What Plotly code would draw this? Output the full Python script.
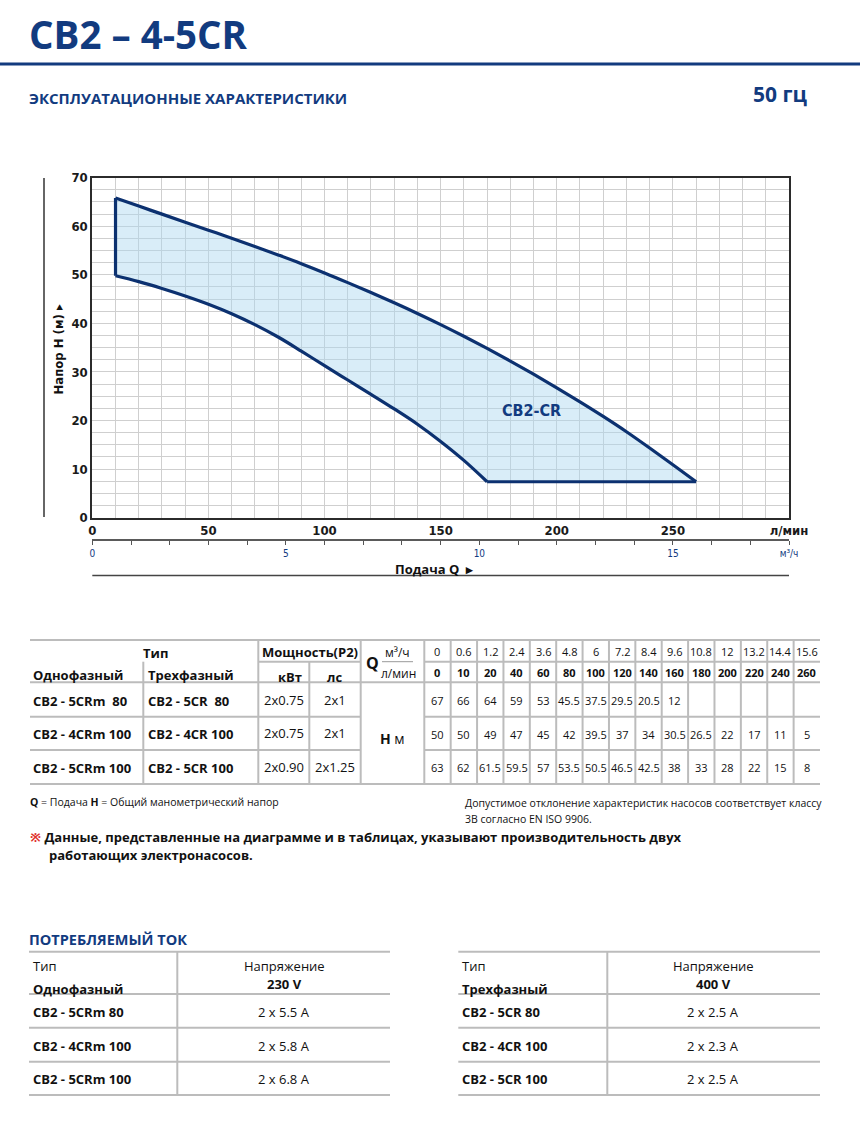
import plotly.graph_objects as go

# ---------------- data ----------------
# envelope of the CB2-CR performance field (Q in l/min, H in m)
upper_q = [10, 20, 30, 40, 50, 60, 70, 80, 90, 100, 110, 120, 130, 140, 150, 160, 170, 180, 190, 200, 210, 220, 230, 240, 250, 260]
upper_h = [65.8, 64.15, 62.5, 60.85, 59.2, 57.55, 55.85, 54.1, 52.3, 50.4, 48.4, 46.35, 44.25, 42.05, 39.75, 37.35, 34.85, 32.25, 29.55, 26.75, 23.85, 20.85, 17.7, 14.35, 10.9, 7.4]
lower_q = [10, 20, 30, 40, 50, 60, 70, 80, 90, 100, 110, 120, 130, 140, 150, 160, 170]
lower_h = [49.8, 48.6, 47.2, 45.65, 43.95, 42.0, 39.75, 37.2, 34.3, 31.3, 28.35, 25.4, 22.4, 19.25, 15.7, 11.8, 7.4]

x_grid = list(range(0, 301, 10))
x_tick_labels = {0: "0", 50: "50", 100: "100", 150: "150", 200: "200", 250: "250", 300: "л/мин"}
y_grid = [i * 2.5 for i in range(29)]
y_tick_labels = {0: "0", 10: "10", 20: "20", 30: "30", 40: "40", 50: "50", 60: "60", 70: "70"}
m3h_grid = list(range(0, 19))
m3h_tick_labels = {0: "0", 5: "5", 10: "10", 15: "15", 18: "м³/ч"}

# performance table
q_m3h = ["0", "0.6", "1.2", "2.4", "3.6", "4.8", "6", "7.2", "8.4", "9.6", "10.8", "12", "13.2", "14.4", "15.6"]
q_lmin = ["0", "10", "20", "40", "60", "80", "100", "120", "140", "160", "180", "200", "220", "240", "260"]
models_1ph = ["CB2 - 5CRm  80", "CB2 - 4CRm 100", "CB2 - 5CRm 100"]
models_3ph = ["CB2 - 5CR  80", "CB2 - 4CR 100", "CB2 - 5CR 100"]
power_kw = ["2x0.75", "2x0.75", "2x0.90"]
power_hp = ["2x1", "2x1", "2x1.25"]
head_5cr80 = ["67", "66", "64", "59", "53", "45.5", "37.5", "29.5", "20.5", "12", "", "", "", "", ""]
head_4cr100 = ["50", "50", "49", "47", "45", "42", "39.5", "37", "34", "30.5", "26.5", "22", "17", "11", "5"]
head_5cr100 = ["63", "62", "61.5", "59.5", "57", "53.5", "50.5", "46.5", "42.5", "38", "33", "28", "22", "15", "8"]
heads = [head_5cr80, head_4cr100, head_5cr100]

# current table
cur_models_1ph = ["CB2 - 5CRm 80", "CB2 - 4CRm 100", "CB2 - 5CRm 100"]
cur_models_3ph = ["CB2 - 5CR 80", "CB2 - 4CR 100", "CB2 - 5CR 100"]
current_230 = ["2 x 5.5 A", "2 x 5.8 A", "2 x 6.8 A"]
current_400 = ["2 x 2.5 A", "2 x 2.3 A", "2 x 2.5 A"]

# ---------------- styling ----------------
W, H = 860, 1138
NARROW = "Liberation Sans Narrow, DejaVu Sans Condensed, Arial Narrow, sans-serif"
SANS = "Open Sans, Noto Sans, sans-serif"
NAVY = "#123b7f"
CURVE = "#0c3170"
GRID = "#cfcfcf"
TLINE = "#bcbcbc"


def px(x):
    return x / W


def py(y):
    return 1 - y / H


fig = go.Figure()

# filled performance field
fig.add_trace(go.Scatter(
    x=upper_q + lower_q[::-1], y=upper_h + lower_h[::-1],
    mode="lines", fill="toself", fillcolor="rgba(170,214,240,0.45)",
    line=dict(width=0), hoverinfo="skip", showlegend=False))
# outline
line_style = dict(color=CURVE, width=3.2)
fig.add_trace(go.Scatter(x=upper_q, y=upper_h, mode="lines", line=dict(shape="spline", smoothing=1, **line_style),
                         hoverinfo="skip", showlegend=False))
fig.add_trace(go.Scatter(x=lower_q, y=lower_h, mode="lines", line=dict(shape="spline", smoothing=1, **line_style),
                         hoverinfo="skip", showlegend=False))
fig.add_trace(go.Scatter(x=[upper_q[0], lower_q[0]], y=[upper_h[0], lower_h[0]], mode="lines", line=line_style,
                         hoverinfo="skip", showlegend=False))
fig.add_trace(go.Scatter(x=[lower_q[-1], upper_q[-1]], y=[lower_h[-1], upper_h[-1]], mode="lines", line=line_style,
                         hoverinfo="skip", showlegend=False))
# invisible trace carrying the secondary (m3/h) axis
fig.add_trace(go.Scatter(x=[float(v) for v in q_m3h], y=[float(v) for v in head_5cr100], xaxis="x2", yaxis="y",
                         mode="markers", marker=dict(opacity=0), hoverinfo="skip", showlegend=False))

xdom = [px(92.3), px(789)]
fig.update_layout(
    width=W, height=H, margin=dict(l=0, r=0, t=0, b=0),
    paper_bgcolor="white", plot_bgcolor="white", showlegend=False,
    xaxis=dict(domain=xdom, range=[0, 300], tickmode="array", tickvals=x_grid,
               ticktext=[x_tick_labels.get(v, "") for v in x_grid],
               showgrid=True, gridcolor=GRID, gridwidth=1.2, zeroline=False,
               showline=True, linecolor="#2b2b2b", linewidth=2, mirror=True, ticks="",
               tickfont=dict(family=NARROW, size=13, color="#1a1a1a", weight="bold"),
               automargin=False, fixedrange=True, anchor="y"),
    yaxis=dict(domain=[py(517.7), py(177.7)], range=[0, 70], tickmode="array", tickvals=y_grid,
               ticktext=[y_tick_labels.get(v, "") for v in y_grid],
               showgrid=True, gridcolor=GRID, gridwidth=1.2, zeroline=False,
               showline=True, linecolor="#2b2b2b", linewidth=2, mirror=True, ticks="",
               tickfont=dict(family=NARROW, size=13, color="#1a1a1a", weight="bold"),
               automargin=False, fixedrange=True, anchor="x"),
    xaxis2=dict(overlaying="x", anchor="free", position=py(540), side="bottom", range=[0, 18],
                tickmode="array", tickvals=m3h_grid, ticktext=[m3h_tick_labels.get(v, "") for v in m3h_grid],
                ticks="outside", ticklen=4, tickwidth=1.3, tickcolor="#555555",
                showline=True, linecolor="#5a5a5a", linewidth=2, showgrid=False, zeroline=False,
                tickfont=dict(family=NARROW, size=10, color=NAVY),
                automargin=False, fixedrange=True),
)

ann = []


def text(x, y, s, size=13, family=SANS, color="#111111", xanchor="left", bold=False, **kw):
    ann.append(dict(x=px(x), y=py(y), xref="paper", yref="paper", text=(f"<b>{s}</b>" if bold else s),
                    showarrow=False, xanchor=xanchor, yanchor="middle",
                    font=dict(family=family, size=size, color=color), **kw))


shapes = []


def hline(x0, x1, y, color=TLINE, width=2):
    shapes.append(dict(type="line", xref="paper", yref="paper", x0=px(x0), x1=px(x1), y0=py(y), y1=py(y),
                       line=dict(color=color, width=width)))


def vline(x, y0, y1, color=TLINE, width=2):
    shapes.append(dict(type="line", xref="paper", yref="paper", x0=px(x), x1=px(x), y0=py(y0), y1=py(y1),
                       line=dict(color=color, width=width)))


# ---- header ----
text(27, 34, "CB2 – 4-5CR", size=38.5, color=NAVY, bold=True)
hline(0, 860, 64, color=NAVY, width=3)
text(27, 98, "ЭКСПЛУАТАЦИОННЫЕ ХАРАКТЕРИСТИКИ", size=15, color=NAVY, bold=True)
text(810, 94, "50 гц", size=21, color=NAVY, bold=True, xanchor="right")

# ---- chart extras ----
vline(44, 178, 517, color="#333333", width=1.5)
text(57.5, 349, "Напор H (м) ▸", size=13, family=NARROW, color="#111111", bold=True, xanchor="center", textangle=-90)
hline(92.3, 789, 575.5, color="#444444", width=1.5)
text(434, 569, "Подача Q  ▸", size=13, family=SANS, color="#111111", bold=True, xanchor="center")
ann.append(dict(x=189, y=22, xref="x", yref="y", text="<b>CB2-CR</b>", showarrow=False,
                font=dict(family=NARROW, size=16, color=NAVY)))

# ---- performance table ----
T0, T1, T2, T3, T4, T5 = 640, 661.7, 682.3, 716.7, 750, 784
row_y = [700.5, 734.3, 767.7]
hline(30, 820, T0)
hline(258.3, 360.7, T1)
hline(424.3, 820, T1)
hline(30, 820, T2)
for yy in (T3, T4):
    hline(30, 360.7, yy)
    hline(424.3, 820, yy)
hline(30, 820, T5)
hline(382, 413, T1, color="#999999", width=1)
vline(143.3, T1, T5)
vline(258.3, T0, T5)
vline(309.3, T1, T5)
vline(360.7, T0, T5)
col_w = (820 - 424.3) / len(q_m3h)
for i in range(len(q_m3h)):
    vline(424.3 + i * col_w, T0, T5)

text(141, 653, "Тип", bold=True)
text(31, 675, "Однофазный", bold=True)
text(146, 675, "Трехфазный", bold=True)
text(310, 652, "Мощность(P2)", bold=True, xanchor="center")
text(290, 676.5, "кВт", bold=True, xanchor="center")
text(334, 676.5, "лс", bold=True, xanchor="center")
text(372.5, 663, "Q", size=16, bold=True, xanchor="center")
text(397, 652, "м³/ч", size=12, xanchor="center")
text(398, 673, "л/мин", size=12, xanchor="center")
text(392, 738, "<b>H</b> м", size=14, xanchor="center")

for i in range(len(q_m3h)):
    cx = 424.3 + (i + 0.5) * col_w
    text(cx, 651.5, q_m3h[i], size=11, xanchor="center")
    text(cx, 672.5, q_lmin[i], size=11, bold=True, xanchor="center")
    for r in range(3):
        if heads[r][i]:
            text(cx, row_y[r], heads[r][i], size=11, xanchor="center")

for r in range(3):
    text(31, row_y[r], models_1ph[r], bold=True)
    text(146, row_y[r], models_3ph[r], bold=True)
    text(283.5, row_y[r] - 1, power_kw[r], size=13, xanchor="center")
    text(335, row_y[r] - 1, power_hp[r], size=13, xanchor="center")

# ---- notes ----
text(28, 802, "<b>Q</b> = Подача <b>H</b> = Общий манометрический напор", size=10.5)
text(463, 803, "Допустимое отклонение характеристик насосов соответствует классу", size=10.5)
text(463, 819, "3B согласно EN ISO 9906.", size=10.5)
text(28, 836.5, '<span style="color:#e0312c">※</span> Данные, представленные на диаграмме и в таблицах, указывают производительность двух',
     size=13, bold=True)
text(47, 855, "работающих электронасосов.", size=13, bold=True)

# ---- current tables ----
text(27, 939, "ПОТРЕБЛЯЕМЫЙ ТОК", size=14.5, color=NAVY, bold=True)
C0, C1, C2, C3, C4 = 951.7, 994, 1027.7, 1061.7, 1095
cur_rows = [1012, 1046, 1079]
for (xl, xr, xv, xc, phase, volt, mods, vals) in (
        (29, 390, 177.3, 284, "Однофазный", "230 V", cur_models_1ph, current_230),
        (458.3, 820, 607.3, 713, "Трехфазный", "400 V", cur_models_3ph, current_400)):
    for yy in (C0, C1, C2, C3, C4):
        hline(xl, xr, yy)
    vline(xv, C0, C4)
    text(xl + 2, 966, "Тип", size=13)
    text(xl + 2, 988.5, phase, size=13, bold=True)
    text(xc, 966, "Напряжение", size=13, xanchor="center")
    text(xc, 983.5, volt, size=13, bold=True, xanchor="center")
    for r in range(3):
        text(xl + 2, cur_rows[r], mods[r], size=13, bold=True)
        text(xc, cur_rows[r], vals[r], size=13, xanchor="center")

fig.update_layout(annotations=ann, shapes=shapes)
fig.write_html("out.html", config={"displayModeBar": False},
               post_script="document.body.style.margin='0px';")
